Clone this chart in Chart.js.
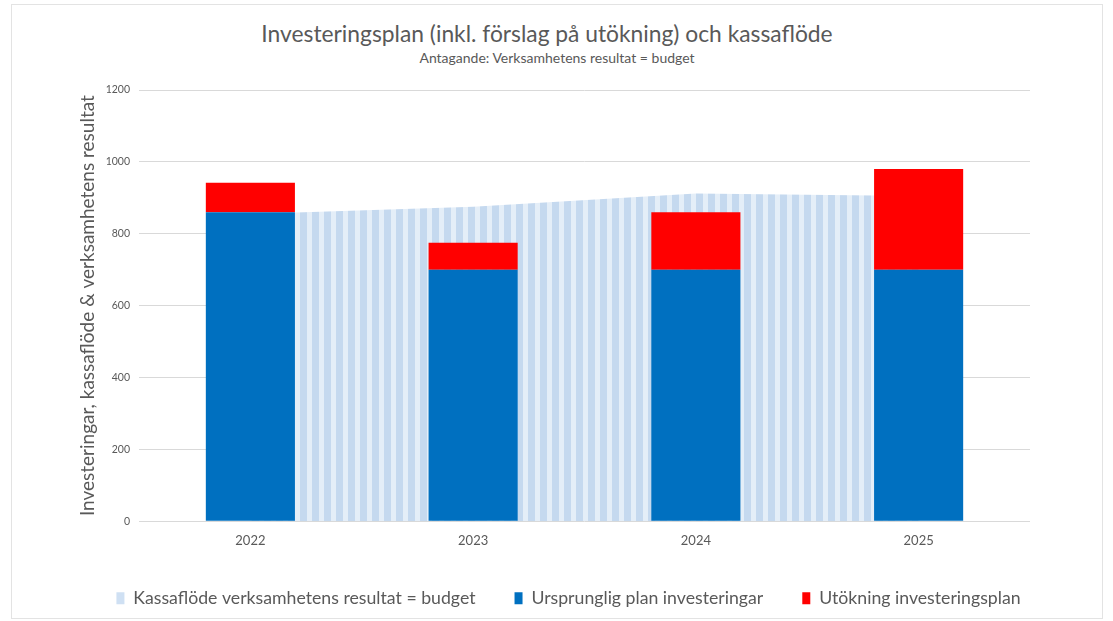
<!DOCTYPE html>
<html>
<head>
<meta charset="utf-8">
<script src="https://cdn.jsdelivr.net/npm/chart.js@4/dist/chart.umd.min.js"></script>
<style>
  html, body { margin: 0; padding: 0; background: #fff; }
  #frame { position: absolute; left: 11px; top: 4px; width: 1090px; height: 613px; border: 1px solid #e3e3e3; }
  #wrap { position: absolute; left: 0; top: 0; width: 1113px; height: 621px; }
  .ttl { position: absolute; transform: translateX(-50%); white-space: nowrap; color: #595959; font-family: Lato, "Open Sans", sans-serif; }
  #title { left: 547px; top: 20px; font-size: 22.8px; line-height: 26px; }
  #subtitle { left: 557px; top: 50px; font-size: 14px; line-height: 16px; }
</style>
</head>
<body>
<div id="frame"></div>
<div id="title" class="ttl">Investeringsplan (inkl. förslag på utökning) och kassaflöde</div>
<div id="subtitle" class="ttl">Antagande: Verksamhetens resultat = budget</div>
<div id="wrap"><canvas id="chart"></canvas></div>
<script>
const years       = ['2022', '2023', '2024', '2025']
const kassaflode  = [855, 875, 912, 905]  // Kassaflöde verksamhetens resultat = budget
const ursprunglig = [860, 700, 700, 700]  // Ursprunglig plan investeringar
const utokning    = [82, 75, 160, 280]    // Utökning investeringsplan

const textGray = '#595959'
const font = 'Lato, "Open Sans", sans-serif'

// randig fyllning för kassaflödet
const pat = document.createElement('canvas')
pat.width = 12
pat.height = 4
const pctx = pat.getContext('2d')
pctx.fillStyle = '#e4eef8'
pctx.fillRect(0, 0, 12, 4)
pctx.fillStyle = '#c5d9ef'
pctx.fillRect(0, 0, 7, 4)
const stripes = pctx.createPattern(pat, 'repeat')

const baseLabels = Chart.defaults.plugins.legend.labels.generateLabels

new Chart(document.getElementById('chart'), {
  type: 'bar',
  data: {
    labels: years,
    datasets: [
      {
        type: 'line',
        label: 'Kassaflöde verksamhetens resultat = budget',
        data: kassaflode,
        stack: 'area',
        order: 2,
        fill: 'origin',
        backgroundColor: stripes,
        borderWidth: 0,
        pointRadius: 0,
        tension: 0,
      },
      {
        label: 'Ursprunglig plan investeringar',
        data: ursprunglig,
        stack: 'inv',
        order: 1,
        backgroundColor: '#0070c0',
        categoryPercentage: 1,
        barPercentage: 0.4,
      },
      {
        label: 'Utökning investeringsplan',
        data: utokning,
        stack: 'inv',
        order: 1,
        backgroundColor: '#ff0000',
        categoryPercentage: 1,
        barPercentage: 0.4,
      },
    ],
  },
  options: {
    responsive: true,
    maintainAspectRatio: false,
    animation: false,
    layout: { padding: { left: 44, right: 20, top: 90, bottom: 4 } },
    plugins: {
      legend: {
        position: 'bottom',
        labels: {
          color: textGray,
          font: { family: font, size: 17.7 },
          boxWidth: 8,
          boxHeight: 12,
          padding: 39,
          generateLabels(chart) {
            return baseLabels(chart)
              .map(l => ({ ...l, lineWidth: 0, fillStyle: l.datasetIndex === 0 ? '#cfe0f3' : l.fillStyle }))
              .sort((a, b) => a.datasetIndex - b.datasetIndex)
          },
        },
      },
      tooltip: { enabled: false },
    },
    scales: {
      x: {
        stacked: true,
        grid: { display: false, drawTicks: false },
        border: { display: false },
        ticks: { color: textGray, font: { family: font, size: 13 }, padding: 12 },
        afterFit(scale) { scale.height = 29 },
      },
      y: {
        stacked: true,
        min: 0,
        max: 1200,
        ticks: { stepSize: 200, color: textGray, font: { family: font, size: 10.5 }, padding: 9, callback: v => String(v) },
        grid: { color: '#d9d9d9', drawTicks: false },
        border: { display: false },
        title: {
          display: true,
          text: 'Investeringar, kassaflöde & verksamhetens resultat',
          color: textGray,
          font: { family: font, size: 19 },
          padding: { top: 32, bottom: 2 },
        },
        afterFit(scale) { scale.width = 95 },
      },
      y2: {
        position: 'right',
        min: 0,
        max: 1200,
        grid: { display: false },
        border: { display: false },
        ticks: { display: false },
        afterFit(scale) { scale.width = 63 },
      },
    },
  },
})
</script>
</body>
</html>
